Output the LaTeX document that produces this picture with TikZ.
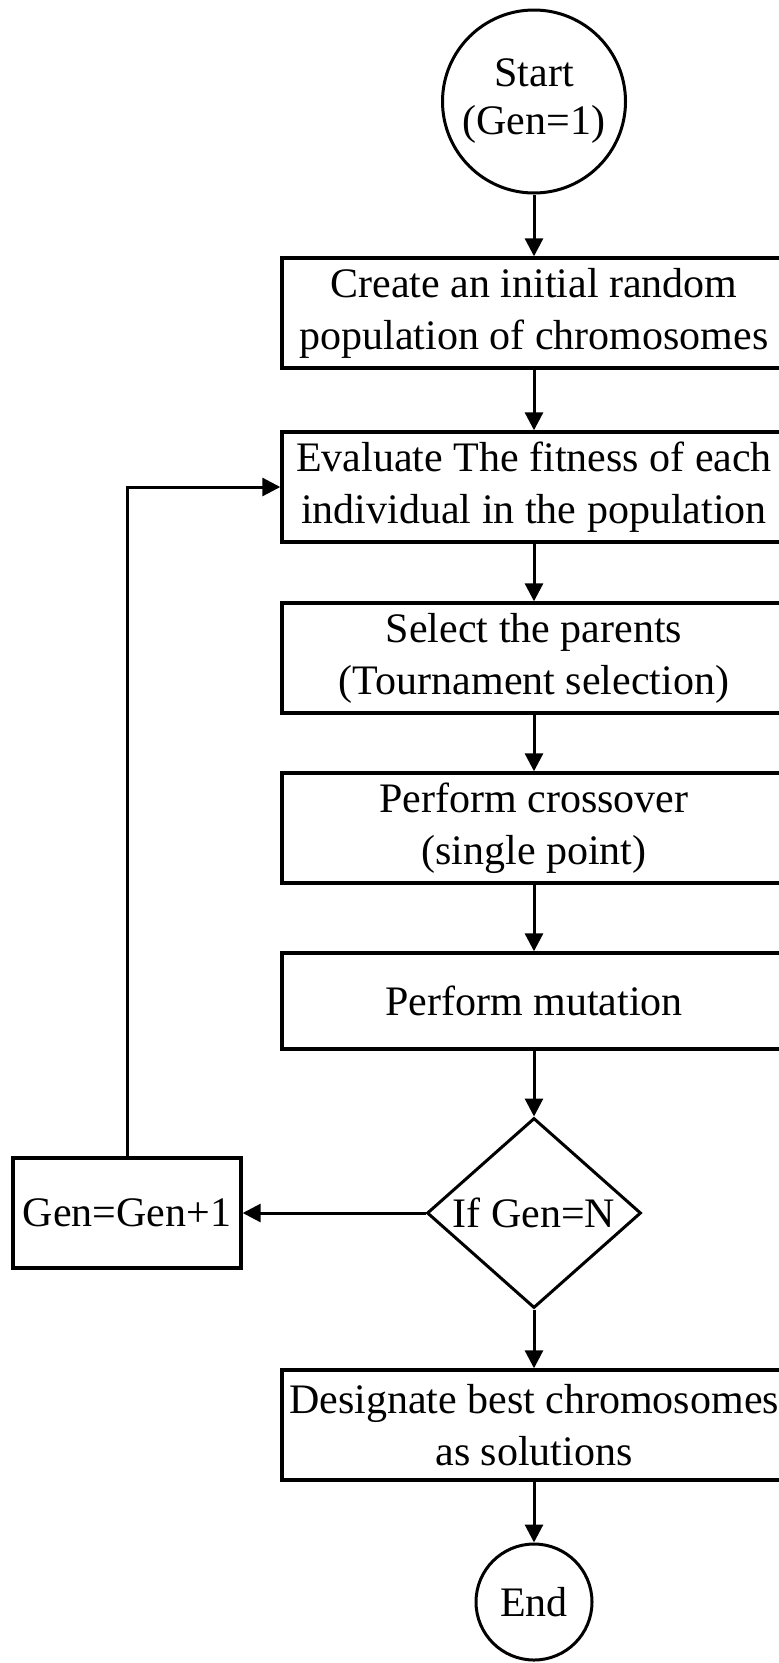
\documentclass[tikz,border=0pt]{standalone}
\usepackage{fontspec}
\setmainfont{Liberation Serif}
\usetikzlibrary{shapes.geometric,arrows.meta}

\begin{document}
\begin{tikzpicture}[x=1pt,y=-1pt,
  every node/.style={font=\fontsize{42}{52}\selectfont, align=center, inner sep=0pt},
  stepbox/.style={draw, line width=3.4pt, rectangle, minimum width=504, minimum height=110},
  termnode/.style={draw, line width=3pt, circle},
  decnode/.style={draw, line width=3pt, diamond, aspect=1.1, minimum width=214, minimum height=190},
  flow/.style={line width=3pt, -{Triangle[length=18pt,width=18pt]}}]

  \useasboundingbox (0,0) rectangle (779,1663);
  \fill[white] (0,0) rectangle (779,1663);

  % start / end terminals
  \node[termnode, minimum size=183, font=\fontsize{42}{48}\selectfont] (start) at (534,101.5) {Start\\(Gen=1)};
  \node[termnode, minimum size=116] (fin) at (534,1602) {End};

  % process steps
  \node[stepbox] (init) at (534,313) {Create an initial random\\population of chromosomes};
  \node[stepbox] (eval) at (534,487) {Evaluate The fitness of each\\individual in the population};
  \node[stepbox] (sel)  at (534,658) {Select the parents\\(Tournament selection)};
  \node[stepbox] (cross) at (534,828) {Perform crossover\\(single point)};
  \node[stepbox, minimum height=96] (mut) at (534,1001) {Perform mutation};
  \node[decnode] (test) at (534,1213) {If Gen=N};
  \node[stepbox, minimum width=228] (inc) at (127,1213) {Gen=Gen+1};
  \node[stepbox] (best) at (534,1425) {Designate best chromosomes\\as solutions};

  % connectors
  \draw[flow] (start) -- (init);
  \draw[flow] (init) -- (eval);
  \draw[flow] (eval) -- (sel);
  \draw[flow] (sel) -- (cross);
  \draw[flow] (cross) -- (mut);
  \draw[flow] (mut) -- (test);
  \draw[flow] (test.west) -- (inc.east);
  \draw[flow] (inc.north) |- (eval.west);
  \draw[flow] (test.south) -- (best);
  \draw[flow] (best) -- (fin);
\end{tikzpicture}
\end{document}
